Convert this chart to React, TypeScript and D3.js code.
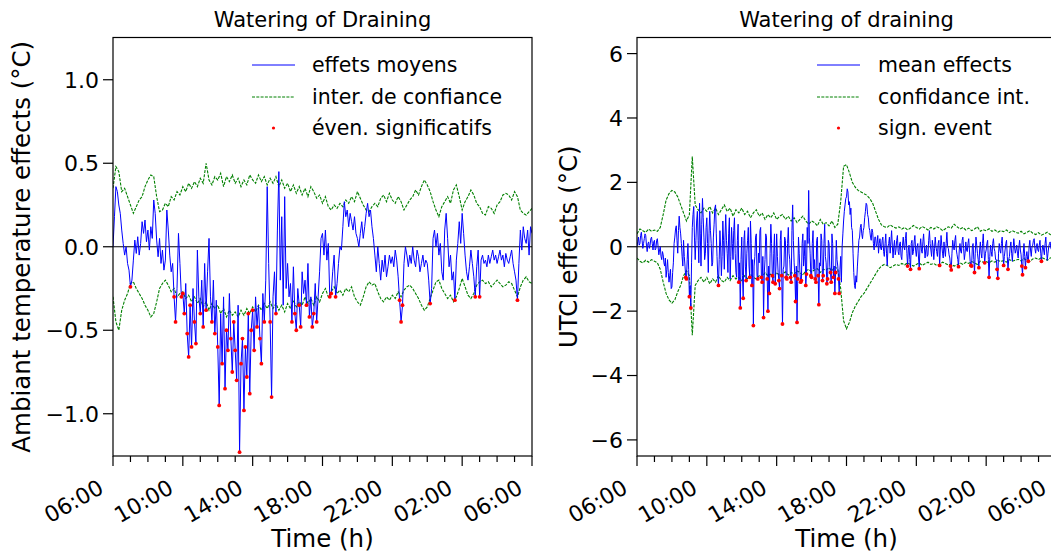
import React from 'react';
import * as d3 from 'd3';

// time steps (hours) of the series
const LEFT_MEAN_STEP = 5 / 60;
const RIGHT_MEAN_STEP = 2.5 / 60;
const CI_STEP = 10 / 60;

const xTickHours = [0, 4, 8, 12, 16, 20, 24];
const xTickLabels = ['06:00', '10:00', '14:00', '18:00', '22:00', '02:00', '06:00'];
const minorTickHours = d3.range(0, 25);

const leftYTicks = [-1.0, -0.5, 0, 0.5, 1.0];
const rightYTicks = [-6, -4, -2, 0, 2, 4, 6];

// ---- Left panel: ambient temperature (5-min steps from 06:00) ----
const leftMean = [
  0.00, 0.18, 0.36, 0.33, 0.25, 0.20, 0.10, 0.02, -0.05, 0.00, -0.10, -0.14,
  -0.24, -0.20, -0.08, 0.04, -0.04, 0.06, -0.05, 0.02, 0.15, 0.08, 0.16, 0.03,
  0.10, -0.02, 0.12, 0.05, 0.28, 0.20, 0.04, -0.06, 0.05, -0.10, -0.02, -0.14,
  -0.08, 0.22, 0.10, -0.05, -0.15, -0.10, -0.30, -0.45, -0.25, 0.08, -0.10, -0.30,
  -0.28, -0.40, -0.22, -0.52, -0.66, -0.35, -0.60, -0.25, -0.45, -0.58, -0.02, -0.30,
  -0.40, -0.20, -0.48, -0.10, -0.38, -0.15, 0.05, -0.30, -0.45, -0.20, -0.52, -0.32,
  -0.60, -0.95, -0.40, -0.70, -0.30, -0.85, -0.50, -0.62, -0.28, -0.55, -0.75, -0.45,
  -0.62, -0.80, -0.35, -1.23, -0.70, -0.55, -0.98, -0.60, -0.78, -0.40, -0.88, -0.50,
  -0.38, -0.62, -0.30, -0.48, -0.35, -0.55, -0.70, -0.28, -0.45, -0.20, 0.36, -0.10,
  -0.45, -0.90, -0.30, -0.15, -0.40, 0.10, 0.45, -0.20, 0.18, -0.35, 0.30, -0.25,
  -0.10, -0.30, -0.22, -0.45, -0.12, -0.40, -0.50, -0.25, -0.35, -0.48, -0.15, -0.28,
  -0.20, -0.35, -0.10, -0.42, -0.30, -0.48, -0.40, -0.22, -0.45, -0.30, -0.15, 0.05,
  0.08, -0.05, 0.10, -0.08, 0.02, -0.30, -0.28, -0.15, -0.05, -0.30, -0.22, -0.10,
  0.00, -0.02, 0.12, 0.27, 0.18, 0.22, 0.12, 0.20, 0.15, 0.10, 0.18, 0.08,
  0.05, 0.00, 0.08, 0.15, 0.05, 0.12, 0.20, 0.26, 0.18, 0.22, 0.12, 0.05,
  -0.05, -0.15, 0.00, -0.10, -0.20, -0.08, -0.15, -0.05, -0.18, -0.12, -0.05, -0.10,
  -0.06, -0.12, -0.02, -0.08, -0.18, -0.32, -0.45, -0.35, -0.10, 0.00, -0.05, -0.12,
  -0.05, -0.10, 0.00, -0.08, -0.12, -0.02, -0.06, -0.15, -0.10, -0.05, -0.12, -0.08,
  -0.10, -0.20, -0.34, -0.25, 0.05, 0.10, 0.00, 0.08, -0.05, 0.02, -0.15, -0.20,
  0.10, 0.20, 0.05, -0.12, -0.05, -0.20, -0.15, -0.32, -0.08, 0.02, 0.15, 0.02,
  0.20, 0.08, -0.05, -0.15, -0.20, -0.12, -0.02, -0.10, -0.18, -0.30, -0.12, -0.02,
  -0.30, -0.08, -0.05, -0.10, -0.08, -0.12, -0.05, -0.10, -0.06, -0.02, -0.08, -0.05,
  -0.10, -0.06, -0.02, -0.08, -0.05, -0.12, -0.04, -0.08, -0.10, -0.06, -0.02, -0.10,
  -0.15, -0.20, -0.32, -0.10, 0.10, -0.02, 0.12, 0.05, 0.02, 0.10, -0.05, 0.12,
  0.08,
];

const leftUpper = [
  0.35, 0.48, 0.45, 0.33, 0.35, 0.30,
  0.25, 0.20, 0.24, 0.28, 0.30, 0.36,
  0.40, 0.43, 0.42, 0.30, 0.21, 0.22,
  0.26, 0.24, 0.30, 0.28, 0.33, 0.31,
  0.36, 0.33, 0.38, 0.35, 0.39, 0.36,
  0.41, 0.38, 0.50, 0.40, 0.37, 0.42,
  0.40, 0.44, 0.36, 0.42, 0.39, 0.43,
  0.38, 0.41, 0.36, 0.40, 0.37, 0.43,
  0.40, 0.38, 0.43, 0.39, 0.42, 0.37,
  0.41, 0.38, 0.42, 0.36, 0.40, 0.35,
  0.38, 0.33, 0.37, 0.32, 0.36, 0.31,
  0.35, 0.30, 0.36, 0.33, 0.29, 0.31,
  0.26, 0.30, 0.24, 0.22, 0.25, 0.23,
  0.26, 0.24, 0.28, 0.26, 0.30, 0.27,
  0.33, 0.29, 0.25, 0.22, 0.21, 0.24,
  0.26, 0.24, 0.29, 0.31, 0.27, 0.32,
  0.28, 0.26, 0.30, 0.27, 0.22, 0.25,
  0.28, 0.30, 0.34, 0.31, 0.36, 0.40,
  0.37, 0.33, 0.27, 0.22, 0.18, 0.24,
  0.27, 0.30, 0.26, 0.34, 0.37, 0.30,
  0.22, 0.27, 0.30, 0.34, 0.31, 0.26,
  0.24, 0.20, 0.19, 0.24, 0.23, 0.20,
  0.25, 0.27, 0.31, 0.32, 0.31, 0.28,
  0.33, 0.30, 0.22, 0.20, 0.19, 0.21,
  0.23,
];

const leftLower = [
  -0.30, -0.45, -0.50, -0.38, -0.32, -0.28,
  -0.22, -0.21, -0.25, -0.28, -0.31, -0.35,
  -0.38, -0.42, -0.40, -0.33, -0.25, -0.22,
  -0.20, -0.23, -0.27, -0.25, -0.30, -0.28,
  -0.27, -0.31, -0.29, -0.33, -0.30, -0.34,
  -0.31, -0.36, -0.33, -0.38, -0.34, -0.37,
  -0.35, -0.40, -0.37, -0.42, -0.38, -0.41,
  -0.39, -0.42, -0.38, -0.41, -0.37, -0.40,
  -0.36, -0.39, -0.35, -0.38, -0.34, -0.37,
  -0.33, -0.37, -0.34, -0.38, -0.35, -0.39,
  -0.34, -0.37, -0.32, -0.36, -0.33, -0.35,
  -0.30, -0.34, -0.31, -0.35, -0.30, -0.33,
  -0.28, -0.25, -0.30, -0.27, -0.24, -0.28,
  -0.26, -0.29, -0.25, -0.27, -0.24, -0.30,
  -0.33, -0.35, -0.30, -0.24, -0.21, -0.23,
  -0.22, -0.27, -0.31, -0.33, -0.30, -0.32,
  -0.29, -0.31, -0.27, -0.30, -0.26, -0.24,
  -0.23, -0.25, -0.28, -0.31, -0.35, -0.38,
  -0.36, -0.31, -0.26, -0.21, -0.20, -0.25,
  -0.28, -0.31, -0.29, -0.33, -0.30, -0.25,
  -0.19, -0.24, -0.29, -0.31, -0.28, -0.23,
  -0.21, -0.20, -0.22, -0.21, -0.24, -0.22,
  -0.20, -0.22, -0.24, -0.23, -0.21, -0.22,
  -0.26, -0.30, -0.24, -0.20, -0.18, -0.21,
  -0.22,
];

// ---- Right panel: UTCI (2.5-min steps from 06:00) ----
const rightMean = [
  0.00, 0.15, 0.30, 0.05, 0.10, 0.35, 0.45, 0.20, -0.05, 0.10, 0.25, 0.40, 0.35, 0.05, -0.15, 0.10, 0.15, -0.05, 0.05, 0.25, 0.30, 0.10, -0.10, 0.15,
  0.20, -0.10, -0.05, 0.20, 0.25, 0.00, -0.25, -0.10, 0.00, -0.30, -0.40, -0.15, -0.25, -0.50, -0.60, -0.35, -0.95, -0.70, -0.40, -0.80, -1.10, -0.90, -0.70, -1.30,
  -1.25, -0.80, -0.50, 0.10, 0.30, 0.55, 0.65, 0.20, -0.20, 0.50, 0.95, 0.60, 0.40, 0.10, -0.30, -0.60, 0.20, -0.30, -0.60, -0.95, -1.00, -0.40, 0.10, -0.70,
  -1.55, -1.20, -1.90, -0.50, 0.60, 1.00, 1.25, 0.30, -0.40, 0.20, 0.80, 1.10, 0.20, -0.50, 1.35, 0.40, -0.60, 0.70, 1.50, 0.90, 0.30, -0.40, -0.20, 0.60,
  0.90, 0.10, -0.80, 0.40, 1.10, 0.50, 0.10, -0.60, -0.50, 0.30, 0.70, 1.20, 1.30, 0.40, -0.30, -0.90, -1.20, -0.40, 0.50, 0.00, -0.90, -0.30, 0.80, 0.20,
  -0.70, 0.30, 1.00, 0.20, -0.20, -0.80, 0.40, 0.90, -1.00, -0.30, 0.60, 0.10, -0.40, 0.50, 0.90, -0.20, -0.80, -0.95, 0.20, 0.70, -1.10, -0.50, -1.90, -0.40,
  0.30, -0.90, -1.60, 0.20, 0.50, -0.60, -1.05, -0.20, 0.20, 0.60, -0.60, -0.95, 0.80, 0.10, -1.20, -0.40, -2.45, -0.60, -0.30, 0.30, 0.40, -0.90, -1.00, -0.20,
  -0.50, 0.50, 0.60, -0.95, -1.10, -0.30, -2.20, -0.80, -0.40, 0.40, 0.30, -1.00, -2.00, -0.60, -1.45, -0.20, 0.70, 0.10, -0.90, -1.10, -0.20, 0.40, -1.15, -0.60,
  0.40, -0.30, -0.80, -1.05, -1.30, 0.20, 0.50, -0.90, -2.40, -0.70, -0.60, 0.30, 0.20, -0.95, -1.00, 0.10, 0.60, -0.20, -0.40, -0.95, -1.10, 0.50, 1.30, 0.20,
  -0.50, -0.90, -1.70, -0.60, -2.35, -1.00, 0.30, -0.20, -0.80, -1.10, -1.05, 0.10, 0.40, -0.60, -0.30, 0.20, -1.20, -0.85, 0.60, 0.10, 1.75, 0.30, -0.20, -0.90,
  -0.95, 0.10, 0.50, -0.70, -0.40, -1.00, -1.10, 0.20, 0.30, -0.90, -1.80, -0.50, -0.60, 0.40, 0.20, -1.05, -0.90, 0.10, 0.70, -0.30, -0.50, -1.15, -1.00, 0.20,
  0.10, -0.60, -0.80, -1.10, 0.40, 0.10, -0.95, -0.60, -1.45, -0.80, 0.20, -0.40, -0.60, -1.00, -1.45, -0.70, -0.30, -1.10, 0.00, 0.40, 0.80, 1.10, 1.30, 1.50,
  1.55, 1.80, 1.70, 1.30, 1.40, 1.00, 1.20, 0.60, 0.50, -0.20, -0.80, -1.20, -1.30, -0.90, -1.10, -0.60, -0.20, 0.20, 0.30, 0.60, 0.70, 0.40, 0.25, 0.50,
  0.60, 0.90, 1.10, 1.35, 1.30, 1.00, 0.90, 0.60, 0.50, 0.30, 0.20, 0.55, 0.45, 0.10, -0.10, 0.30, 0.30, 0.00, 0.10, 0.35, -0.20, 0.10, 0.25, -0.05,
  -0.10, 0.20, 0.30, -0.15, -0.30, 0.10, 0.40, -0.20, -0.58, 0.00, 0.10, 0.30, -0.20, 0.15, 0.50, 0.05, -0.35, 0.00, 0.20, -0.25, -0.10, 0.20, 0.35, -0.15,
  -0.25, 0.10, 0.15, -0.30, -0.40, 0.05, 0.30, 0.00, -0.10, 0.25, 0.45, -0.20, -0.60, -0.10, 0.05, -0.40, -0.70, 0.10, 0.20, -0.25, -0.15, 0.15, 0.35, -0.10,
  -0.30, 0.00, 0.10, -0.35, -0.68, 0.00, 0.25, -0.10, -0.20, 0.15, 0.40, 0.00, -0.35, -0.10, 0.05, -0.30, -0.25, 0.20, 0.50, 0.10, -0.10, -0.30, 0.20, 0.00,
  -0.40, -0.05, 0.30, 0.00, -0.15, -0.30, 0.10, 0.20, -0.58, -0.10, 0.35, 0.05, -0.20, -0.35, 0.15, -0.10, -0.30, 0.10, 0.45, 0.00, -0.05, -0.25, -0.35, -0.60,
  -0.72, -0.20, 0.20, 0.00, -0.10, 0.20, 0.35, -0.10, -0.25, -0.40, -0.62, -0.10, 0.10, -0.15, -0.20, 0.20, 0.30, -0.05, -0.40, -0.20, 0.15, -0.10, -0.15, 0.10,
  0.25, -0.10, -0.45, -0.58, -0.60, 0.00, 0.10, -0.40, -0.80, -0.20, 0.30, 0.05, -0.20, -0.40, -0.65, -0.10, 0.15, -0.20, -0.35, 0.10, 0.40, -0.10, -0.50, -0.20,
  -0.10, 0.10, 0.20, -0.40, -0.95, -0.30, 0.05, -0.15, -0.30, 0.10, 0.25, -0.05, -0.15, -0.40, -0.40, -0.70, -0.98, -0.20, 0.10, -0.10, -0.20, 0.10, 0.30, -0.20,
  -0.58, -0.30, -0.10, 0.10, 0.20, -0.30, -0.70, -0.40, -0.30, 0.00, 0.15, -0.20, -0.45, -0.10, 0.25, 0.00, -0.20, -0.10, 0.05, -0.20, -0.35, 0.00, 0.20, -0.10,
  -0.25, -0.60, -0.87, -0.20, 0.10, -0.30, -0.65, -0.30, -0.15, -0.40, -0.45, 0.00, 0.20, -0.10, -0.30, 0.00, 0.05, 0.20, 0.25, -0.05, -0.20, 0.00, 0.10, -0.10,
  -0.15, 0.05, 0.20, -0.20, -0.45, -0.10, 0.05, -0.10, -0.25, 0.10, 0.30, -0.10, -0.42, -0.20, 0.00, 0.10, 0.15, -0.05, -0.10, 0.10, 0.25, 0.10, 0.05, 0.15,
  0.10,
];

const rightUpper = [
  0.40, 0.55, 0.50, 0.45, 0.55, 0.48,
  0.52, 0.48, 0.60, 1.00, 1.45, 1.65,
  1.75, 1.70, 1.55, 1.30, 1.05, 0.80,
  1.00, 2.80, 1.30, 1.15, 1.05, 1.20,
  1.10, 1.25, 1.05, 1.20, 1.00, 1.15,
  1.30, 1.10, 1.20, 0.95, 1.15, 1.05,
  1.20, 1.00, 1.10, 0.90, 1.05, 1.15,
  0.95, 1.05, 0.85, 1.00, 0.90, 1.05,
  0.85, 0.95, 1.00, 0.85, 0.95, 0.80,
  0.90, 0.75, 0.85, 0.95, 0.80, 0.70,
  0.80, 0.75, 0.65, 0.85, 0.70, 0.75,
  0.65, 0.80, 0.60, 0.70, 1.40, 2.50,
  2.55, 2.30, 2.00, 1.85, 1.75, 1.70,
  1.65, 1.60, 1.50, 1.35, 1.10, 0.85,
  0.68, 0.62, 0.60, 0.68, 0.62, 0.58,
  0.62, 0.55, 0.60, 0.52, 0.58, 0.66,
  0.60, 0.55, 0.63, 0.58, 0.52, 0.60,
  0.55, 0.62, 0.58, 0.50, 0.56, 0.62,
  0.58, 0.70, 0.62, 0.55, 0.60, 0.52,
  0.58, 0.50, 0.55, 0.62, 0.48, 0.53,
  0.50, 0.56, 0.48, 0.52, 0.45, 0.50,
  0.47, 0.52, 0.44, 0.50, 0.46, 0.42,
  0.48, 0.40, 0.45, 0.50, 0.42, 0.38,
  0.44, 0.36, 0.40, 0.45, 0.38, 0.35,
  0.32,
];

const rightLower = [
  -0.35, -0.45, -0.50, -0.42, -0.48, -0.40,
  -0.45, -0.50, -0.70, -1.10, -1.45, -1.65,
  -1.75, -1.65, -1.40, -1.20, -0.90, -0.75,
  -0.90, -2.75, -1.20, -1.05, -0.95, -1.10,
  -0.95, -1.15, -1.00, -1.10, -0.90, -1.05,
  -1.10, -0.95, -1.05, -0.90, -1.00, -0.95,
  -1.05, -0.90, -1.00, -0.85, -0.95, -1.00,
  -0.90, -0.95, -0.80, -0.90, -0.85, -0.95,
  -0.80, -0.90, -0.85, -0.78, -0.88, -0.80,
  -0.85, -0.75, -0.80, -0.88, -0.75, -0.70,
  -0.78, -0.72, -0.68, -0.80, -0.70, -0.72,
  -0.65, -0.75, -0.62, -0.70, -1.30, -2.30,
  -2.55, -2.35, -2.05, -1.85, -1.70, -1.55,
  -1.45, -1.30, -1.15, -1.00, -0.85, -0.70,
  -0.60, -0.55, -0.58, -0.65, -0.60, -0.55,
  -0.58, -0.52, -0.56, -0.50, -0.55, -0.60,
  -0.55, -0.50, -0.58, -0.53, -0.48, -0.55,
  -0.52, -0.58, -0.54, -0.48, -0.52, -0.57,
  -0.54, -0.60, -0.56, -0.50, -0.55, -0.48,
  -0.52, -0.46, -0.50, -0.55, -0.45, -0.48,
  -0.46, -0.50, -0.44, -0.48, -0.42, -0.46,
  -0.43, -0.48, -0.40, -0.45, -0.42, -0.39,
  -0.44, -0.37, -0.42, -0.46, -0.38, -0.35,
  -0.40, -0.33, -0.37, -0.42, -0.35, -0.32,
  -0.30,
];

const FONT = "'DejaVu Sans', sans-serif";
const TOP = 37.5;
const BOTTOM = 456;
const PLOT_W = 419;

const fmtMinus = (s: string) => s.replace('-', '\u2212');

// confidence bound at the time of mean sample i (bounds are on a coarser grid)
function boundAt(arr: number[], i: number, meanStep: number) {
  const t = (i * meanStep) / CI_STEP;
  const k = Math.floor(t + 1e-9);
  if (k >= arr.length - 1) return arr[arr.length - 1];
  const f = t - k;
  if (f < 1e-9) return arr[k];
  return arr[k] + (arr[k + 1] - arr[k]) * f;
}

type PanelProps = {
  id: string;
  x0: number;
  yDomain: [number, number];
  yTicks: number[];
  yFmt: (v: number) => string;
  mean: number[];
  meanStep: number;
  upper: number[];
  lower: number[];
  title: string;
  ylabel: string;
  ylabelX: number;
  legend: string[];
  legendLineX: number;
  legendTextX: number;
};

function Panel(p: PanelProps) {
  const x = d3.scaleLinear().domain([0, 24]).range([p.x0, p.x0 + PLOT_W]);
  const y = d3.scaleLinear().domain(p.yDomain).range([BOTTOM, TOP]);
  const meanLine = d3.line<number>().x((_, i) => x(i * p.meanStep)).y((d) => y(d));
  const ciLine = d3.line<number>().x((_, i) => x(i * CI_STEP)).y((d) => y(d));
  const sig = p.mean
    .map((v, i) => ({ v, i }))
    .filter((d) => d.v < boundAt(p.lower, d.i, p.meanStep));
  const cx = p.x0 + PLOT_W / 2;
  const rows = [65, 97, 128];
  return (
    <g>
      <defs>
        <clipPath id={p.id}>
          <rect x={p.x0} y={TOP} width={PLOT_W} height={BOTTOM - TOP} />
        </clipPath>
      </defs>
      <g clipPath={`url(#${p.id})`}>
        <line x1={p.x0} x2={p.x0 + PLOT_W} y1={y(0)} y2={y(0)} stroke="#000" strokeWidth={1.2} />
        <path d={ciLine(p.upper) || ''} fill="none" stroke="#008000" strokeWidth={1.1} strokeDasharray="3,1.3" />
        <path d={ciLine(p.lower) || ''} fill="none" stroke="#008000" strokeWidth={1.1} strokeDasharray="3,1.3" />
        <path d={meanLine(p.mean) || ''} fill="none" stroke="#0000ff" strokeWidth={1} />
        {sig.map((d) => (
          <circle key={d.i} cx={x(d.i * p.meanStep)} cy={y(d.v)} r={1.9} fill="#ff0000" />
        ))}
      </g>
      <rect x={p.x0} y={TOP} width={PLOT_W} height={BOTTOM - TOP} fill="none" stroke="#000" strokeWidth={1.2} />
      {minorTickHours.map((h) => (
        <line key={'m' + h} x1={x(h)} x2={x(h)} y1={BOTTOM} y2={BOTTOM + (h % 4 === 0 ? 10 : 6)} stroke="#000" strokeWidth={1.2} />
      ))}
      {xTickHours.map((h, i) => (
        <text
          key={'xl' + i}
          transform={`translate(${x(h) - 16},${BOTTOM + 22}) rotate(-30)`}
          textAnchor="end"
          dy="0.73em"
          fontSize={22}
          fontFamily={FONT}
          fill="#000"
        >
          {xTickLabels[i]}
        </text>
      ))}
      {p.yTicks.map((t) => (
        <g key={'y' + t}>
          <line x1={p.x0 - 10} x2={p.x0} y1={y(t)} y2={y(t)} stroke="#000" strokeWidth={1.2} />
          <text x={p.x0 - 14} y={y(t)} dy="0.36em" textAnchor="end" fontSize={22} fontFamily={FONT} fill="#000">
            {p.yFmt(t)}
          </text>
        </g>
      ))}
      <text x={cx} y={27} textAnchor="middle" fontSize={21} fontFamily={FONT} fill="#000">
        {p.title}
      </text>
      <text x={cx} y={547} textAnchor="middle" fontSize={24.5} fontFamily={FONT} fill="#000">
        Time (h)
      </text>
      <text
        transform={`translate(${p.ylabelX},${(TOP + BOTTOM) / 2}) rotate(-90)`}
        textAnchor="middle"
        fontSize={24.5}
        fontFamily={FONT}
        fill="#000"
      >
        {p.ylabel}
      </text>
      <line x1={p.legendLineX} x2={p.legendLineX + 43} y1={rows[0]} y2={rows[0]} stroke="#0000ff" strokeWidth={1} />
      <line x1={p.legendLineX} x2={p.legendLineX + 43} y1={rows[1]} y2={rows[1]} stroke="#008000" strokeWidth={1} strokeDasharray="3,1.3" />
      <circle cx={p.legendLineX + 21.5} cy={rows[2]} r={1.6} fill="#ff0000" />
      {p.legend.map((s, i) => (
        <text key={'lg' + i} x={p.legendTextX} y={rows[i]} dy="0.36em" fontSize={20.5} fontFamily={FONT} fill="#000">
          {s}
        </text>
      ))}
    </g>
  );
}

export default function App() {
  return (
    <svg
      width={1051}
      height={555}
      viewBox="0 0 1051 555"
      style={{ position: 'absolute', left: 0, top: 0, background: '#fff' }}
    >
      <rect x={0} y={0} width={1051} height={555} fill="#fff" />
      <Panel
        id="clipL"
        x0={113}
        yDomain={[-1.253, 1.253]}
        yTicks={leftYTicks}
        yFmt={(v) => fmtMinus(v.toFixed(1))}
        mean={leftMean}
        meanStep={LEFT_MEAN_STEP}
        upper={leftUpper}
        lower={leftLower}
        title="Watering of Draining"
        ylabel="Ambiant temperature effects (°C)"
        ylabelX={30}
        legend={['effets moyens', 'inter. de confiance', 'éven. significatifs']}
        legendLineX={252}
        legendTextX={312}
      />
      <Panel
        id="clipR"
        x0={637}
        yDomain={[-6.5, 6.5]}
        yTicks={rightYTicks}
        yFmt={(v) => fmtMinus(String(v))}
        mean={rightMean}
        meanStep={RIGHT_MEAN_STEP}
        upper={rightUpper}
        lower={rightLower}
        title="Watering of draining"
        ylabel="UTCI effects (°C)"
        ylabelX={577}
        legend={['mean effects', 'confidance int.', 'sign. event']}
        legendLineX={817}
        legendTextX={878}
      />
    </svg>
  );
}
